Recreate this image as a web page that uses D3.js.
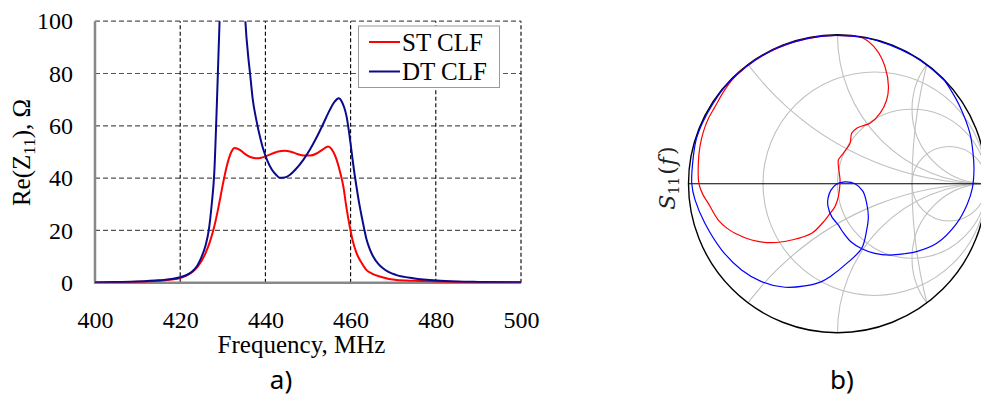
<!DOCTYPE html>
<html lang="en">
<head>
<meta charset="UTF-8">
<title>Re(Z11) and S11</title>
<script src="https://d3js.org/d3.v7.min.js"></script>
<style>
  body { margin: 0; background: #fff; }
  svg { display: block; }
</style>
</head>
<body>
<script>
const width = 981, height = 397;
const serif = "'Liberation Serif', 'Times New Roman', Times, serif";
const sans = "'Noto Sans', 'Open Sans', sans-serif";

// ---- panel a): Re(Z11) vs frequency ----
const stFreq = [400, 405, 410, 415, 418, 420, 422, 423, 424, 425, 426, 427, 428, 429, 430, 431, 432, 432.8,
  434, 435, 436, 437, 438, 439, 440, 442, 443, 444.5, 446, 447.5, 449, 450.5, 452, 453.5, 454.7, 455.5,
  456.5, 457.5, 458.3, 459, 459.8, 460.5, 461.4, 462.5, 463.7, 465, 467, 470.8, 475, 480, 490, 500];
const stRe = [0.1, 0.2, 0.35, 0.7, 1.2, 1.8, 3.2, 4.3, 6, 8.3, 11.5, 15.8, 21.5, 29, 37.5, 45, 50, 51.5,
  50.8, 49.5, 48.4, 47.8, 47.6, 47.8, 48.3, 49.6, 50.2, 50.5, 50.1, 49.2, 48.6, 48.6, 49.4, 51, 52.1, 51.2,
  48, 42.5, 36.8, 29, 21.5, 16, 11.3, 7.8, 4.9, 3.5, 2.3, 1.0, 0.7, 0.45, 0.2, 0.1];

const dtFreq = [400, 405, 410, 415, 418, 420, 422, 423, 424, 425, 426, 426.7, 427.4, 428, 428.6, 429, 429.4,
  430, 431, 432, 433, 434, 435, 435.3, 436, 436.4, 437, 437.9, 439, 439.5, 440.5, 441.5, 442.5, 443.4, 444.5,
  445.7, 447, 448.9, 450.5, 452, 453.5, 455.1, 456.3, 457.2, 458, 458.5, 459, 459.6, 460.2, 460.8, 461.4, 462,
  462.6, 463.2, 463.7, 464.5, 465.3, 466.5, 467.6, 469, 470.8, 474.7, 480.2, 485, 490, 500];
const dtRe = [0.1, 0.25, 0.45, 0.9, 1.4, 2.1, 3.4, 4.6, 6.5, 9.8, 14.5, 20, 30, 42, 68, 88, 108,
  150, 230, 280, 260, 190, 110, 100, 86, 80, 70.5, 62, 54, 51, 46.5, 43.3, 41.3, 40.1, 40.2,
  41.2, 43.2, 47, 51, 55.5, 60.5, 66, 69.3, 70.5, 69, 67, 64, 58, 50.5, 43, 36.5, 30.5,
  25.3, 20.5, 16.8, 12.8, 10, 7.2, 5.5, 4.0, 2.9, 1.7, 0.8, 0.45, 0.3, 0.15];

const xTicks = [400, 420, 440, 460, 480, 500];
const yTicks = [0, 20, 40, 60, 80, 100];
const seriesNames = ["ST CLF", "DT CLF"];

// ---- panel b): S11 on the Smith chart (reflection coefficient, re / im) ----
const stGammaRe = [0.10, -0.05, -0.20, -0.35, -0.50, -0.62, -0.70, -0.76, -0.822, -0.87, -0.90, -0.923, -0.934,
  -0.93, -0.905, -0.867, -0.80, -0.74, -0.688, -0.576, -0.442, -0.308, -0.173, -0.084, -0.05, -0.017, 0.005,
  0.013, 0.017, 0.012, 0.006, 0.006, 0.039, 0.084, 0.095, 0.129, 0.175, 0.218, 0.285, 0.33, 0.342, 0.319,
  0.263, 0.173, 0.08];
const stGammaIm = [0.990, 0.994, 0.974, 0.932, 0.862, 0.780, 0.706, 0.625, 0.517, 0.43, 0.35, 0.25, 0.137,
  0.0, -0.07, -0.132, -0.244, -0.30, -0.333, -0.378, -0.396, -0.378, -0.333, -0.244, -0.199, -0.154, -0.09,
  -0.04, 0.025, 0.07, 0.12, 0.159, 0.204, 0.271, 0.338, 0.372, 0.39, 0.405, 0.472, 0.562, 0.651, 0.785,
  0.897, 0.976, 0.993];

const dtGammaRe = [0.72, 0.62, 0.50, 0.35, 0.20, 0.0, -0.20, -0.40, -0.55, -0.68, -0.76, -0.84, -0.905, -0.95,
  -0.972, -0.978, -0.956, -0.89, -0.777, -0.644, -0.51, -0.353, -0.219, -0.107, -0.05, 0.062, 0.162, 0.196,
  0.207, 0.196, 0.17, 0.117, 0.05, -0.01, -0.045, -0.064, -0.064, -0.039, 0.005, 0.04, 0.09, 0.16, 0.25,
  0.352, 0.45, 0.53, 0.666, 0.80, 0.87, 0.905, 0.916, 0.91, 0.889, 0.822, 0.76, 0.72];
const dtGammaIm = [0.69, 0.78, 0.862, 0.932, 0.976, 0.995, 0.975, 0.912, 0.83, 0.728, 0.645, 0.53, 0.41, 0.29,
  0.14, 0.0, -0.109, -0.266, -0.445, -0.579, -0.657, -0.695, -0.686, -0.657, -0.624, -0.535, -0.434, -0.31,
  -0.221, -0.132, -0.05, 0.0, 0.012, -0.005, -0.045, -0.10, -0.15, -0.221, -0.277, -0.33, -0.39, -0.435, -0.468,
  -0.479, -0.47, -0.456, -0.40, -0.266, -0.14, -0.03, 0.10, 0.20, 0.338, 0.517, 0.63, 0.69];

const rCircles = [1 / 3, 1, 3];   // constant resistance
const xArcs = [0.5, 1, 2];        // constant reactance (+/-)

const svg = d3.select("body").append("svg")
    .attr("width", width).attr("height", height);
svg.append("rect").attr("width", width).attr("height", height).attr("fill", "#fff");

// ================= panel a) =================
const x = d3.scaleLinear().domain([400, 500]).range([95, 521]);
const y = d3.scaleLinear().domain([0, 100]).range([282.7, 21.2]);

svg.append("clipPath").attr("id", "plotClip")
  .append("rect").attr("x", x(400)).attr("y", y(100))
  .attr("width", x(500) - x(400)).attr("height", y(0) - y(100));

const grid = svg.append("g");
// horizontal dashed grid (grey)
grid.selectAll("line.h").data(yTicks.filter(d => d > 0)).enter()
  .append("line")
  .attr("x1", x(400)).attr("x2", x(500))
  .attr("y1", d => y(d)).attr("y2", d => y(d))
  .attr("stroke", "#555").attr("stroke-width", 1.2).attr("stroke-dasharray", "5,3");
// vertical dashed grid (black)
grid.selectAll("line.v").data(xTicks.filter(d => d > 400)).enter()
  .append("line")
  .attr("x1", d => x(d)).attr("x2", d => x(d))
  .attr("y1", y(0)).attr("y2", y(100))
  .attr("stroke", "#000").attr("stroke-width", 1.1).attr("stroke-dasharray", "4,2.5");

// axes lines
svg.append("line").attr("x1", x(400)).attr("x2", x(400)).attr("y1", y(100)).attr("y2", y(0))
  .attr("stroke", "#888").attr("stroke-width", 2.5);
svg.append("line").attr("x1", x(400) - 1).attr("x2", x(500)).attr("y1", y(0)).attr("y2", y(0))
  .attr("stroke", "#888").attr("stroke-width", 2.5);

const xAxis = svg.append("g").attr("transform", `translate(0,${y(0)})`)
  .call(d3.axisBottom(x).tickValues(xTicks).tickSize(0).tickPadding(28).tickFormat(d3.format("d")));
xAxis.select(".domain").remove();

const yAxis = svg.append("g").attr("transform", `translate(${x(400)},0)`)
  .call(d3.axisLeft(y).tickValues(yTicks).tickSize(0).tickPadding(22).tickFormat(d3.format("d")));
yAxis.select(".domain").remove();

[xAxis, yAxis].forEach(a => a.attr("font-family", null).attr("font-size", null)
  .selectAll("text").style("font-family", serif).style("font-size", "24px").attr("fill", "#000"));

const line = d3.line().curve(d3.curveMonotoneX)
  .x(d => x(d[0])).y(d => y(d[1]));

const plot = svg.append("g").attr("clip-path", "url(#plotClip)");
plot.append("path").datum(stFreq.map((f, i) => [f, stRe[i]]))
  .attr("d", line).attr("fill", "none").attr("stroke", "#ff0000").attr("stroke-width", 2);
plot.append("path").datum(dtFreq.map((f, i) => [f, dtRe[i]]))
  .attr("d", line).attr("fill", "none").attr("stroke", "#0a0a8c").attr("stroke-width", 2);

// legend
const legend = svg.append("g");
legend.append("rect").attr("x", 358.5).attr("y", 26).attr("width", 141).attr("height", 61.5)
  .attr("fill", "#fff").attr("stroke", "#999").attr("stroke-width", 1);
const legendColors = ["#ff0000", "#0a0a8c"];
seriesNames.forEach((name, i) => {
  const ly = 42 + i * 29.5;
  legend.append("line").attr("x1", 369).attr("x2", 400).attr("y1", ly).attr("y2", ly)
    .attr("stroke", legendColors[i]).attr("stroke-width", 2);
  legend.append("text").style("font-family", serif).style("font-size", "25px")
    .attr("x", 402).attr("y", ly + 8.5).text(name);
});

// axis titles
const yTitle = svg.append("text").style("font-family", serif).style("font-size", "25px")
  .attr("text-anchor", "middle")
  .attr("transform", "translate(30,152.5) rotate(-90)");
yTitle.append("tspan").text("Re(Z");
yTitle.append("tspan").style("font-size", "17px").attr("dy", 5).text("11");
yTitle.append("tspan").attr("dy", -5).text("), Ω");

svg.append("text").style("font-family", serif).style("font-size", "25px")
  .attr("text-anchor", "middle").attr("x", 301.5).attr("y", 353)
  .text("Frequency, MHz");

svg.append("text").style("font-family", sans).style("font-size", "26px").attr("text-anchor", "middle")
  .attr("x", 281).attr("y", 389).text("a)");

// ================= panel b) Smith chart =================
const cx = 837.5, cy = 183.7, R = 149;
const gx = d3.scaleLinear().domain([-1, 1]).range([cx - R, cx + R]);
const gy = d3.scaleLinear().domain([-1, 1]).range([cy + R, cy - R]);
const k = gx(1) - gx(0); // pixels per unit

svg.append("clipPath").attr("id", "smithClip")
  .append("circle").attr("cx", gx(0)).attr("cy", gy(0)).attr("r", k);

const sg = svg.append("g").attr("clip-path", "url(#smithClip)")
  .attr("fill", "none").attr("stroke", "#c0c0c0").attr("stroke-width", 1.1);

// constant resistance circles
sg.selectAll("circle.r").data(rCircles).enter().append("circle")
  .attr("cx", r => gx(r / (1 + r))).attr("cy", gy(0))
  .attr("r", r => k / (1 + r));
// constant reactance arcs
sg.selectAll("circle.x").data(xArcs.flatMap(v => [v, -v])).enter().append("circle")
  .attr("cx", gx(1)).attr("cy", v => gy(1 / v))
  .attr("r", v => k / Math.abs(v));
// extra grey arc through (0.6, +/-0.8) and (0.5, 0)
sg.append("circle").attr("cx", gx(3.75)).attr("cy", gy(0)).attr("r", k * 3.25);

// real axis and outer circle
svg.append("line").attr("x1", gx(-1)).attr("x2", gx(1)).attr("y1", gy(0)).attr("y2", gy(0))
  .attr("stroke", "#000").attr("stroke-width", 1.1);
svg.append("circle").attr("cx", gx(0)).attr("cy", gy(0)).attr("r", k)
  .attr("fill", "none").attr("stroke", "#000").attr("stroke-width", 1.4);

const gLine = d3.line().curve(d3.curveCatmullRom.alpha(0.5))
  .x(d => gx(d[0])).y(d => gy(d[1]));

svg.append("path").datum(stGammaRe.map((u, i) => [u, stGammaIm[i]]))
  .attr("d", gLine).attr("fill", "none").attr("stroke", "#ff0000").attr("stroke-width", 1.2);
svg.append("path").datum(dtGammaRe.map((u, i) => [u, dtGammaIm[i]]))
  .attr("d", gLine).attr("fill", "none").attr("stroke", "#0000ff").attr("stroke-width", 1.2);

// S11(f) label
const sLabel = svg.append("text").style("font-size", "22px")
  .style("font-family", "'DejaVu Serif', 'Liberation Serif', serif").attr("fill", "#222")
  .attr("text-anchor", "middle")
  .attr("transform", "translate(675,178) rotate(-90)");
sLabel.append("tspan").style("font-style", "italic").text("S");
sLabel.append("tspan").style("font-size", "14px").attr("dy", 4).text("11");
sLabel.append("tspan").attr("dy", -4).attr("dx", 2).text("(");
sLabel.append("tspan").style("font-style", "italic").attr("dx", 1).text("f");
sLabel.append("tspan").attr("dx", 2).text(")");

svg.append("text").style("font-family", sans).style("font-size", "26px").attr("text-anchor", "middle")
  .attr("x", 842).attr("y", 389).text("b)");
</script>
</body>
</html>
